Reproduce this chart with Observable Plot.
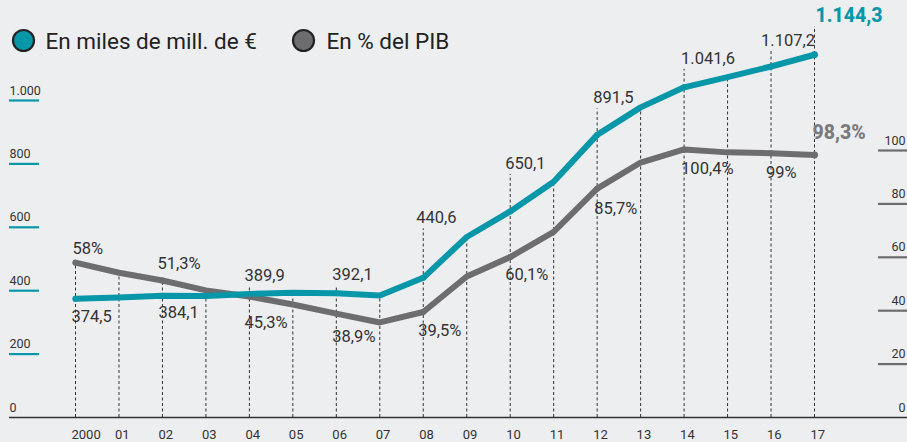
<!DOCTYPE html>
<html><head><meta charset="utf-8">
<script src="https://cdn.jsdelivr.net/npm/d3@7"></script>
<script src="https://cdn.jsdelivr.net/npm/@observablehq/plot@0.6"></script>
<style>
html,body{margin:0;padding:0;background:#edeef0;}
#chart svg{display:block;background:#edeef0;}
</style></head>
<body><div id="chart"></div>
<script>
// ---- data ----
const years = [2000,2001,2002,2003,2004,2005,2006,2007,2008,2009,2010,2011,2012,2013,2014,2015,2016,2017];
const yearLabels = ["2000","01","02","03","04","05","06","07","08","09","10","11","12","13","14","15","16","17"];
const euros = [374.5,378.9,384.1,383.0,389.9,393.5,392.1,384.7,440.6,569.5,650.1,743.5,891.5,978.3,1041.6,1073.9,1107.2,1144.3];
const pctPIB = [58,54.2,51.3,47.6,45.3,42.3,38.9,35.6,39.5,52.8,60.1,69.5,85.7,95.5,100.4,99.3,99,98.3];
const labeledYears = [2000,2002,2004,2006,2008,2010,2012,2014,2016,2017];
const leftTicks = [0,200,400,600,800,1000];
const leftTickLabels = ["0","200","400","600","800","1.000"];
const rightTicks = [0,20,40,60,80,100];
const rightTickLabels = ["0","20","40","60","80","100"];
const legendLabels = ["En miles de mill. de €","En % del PIB"];

// ---- label placement (style) ----
const euroDy = [18,17,-18,-18,-60,-48,-37,-29,-26,-39];
const euroDx = [-4,-4,-5,-4,-7,-5,-4,-3,-10,1];
const pctDy = [-14,-17,26,23,19,18,20,19,20,-22];
const pctDx = [-3,-5,-5,-4,-5,-5,-3,-3,-5,-2];

// ---- layout ----
const W = 907, H = 442;
const X0 = 75, X1 = 814;           // x range for 2000..2017
const Y0 = 417, Y1000 = 100;       // y range for 0..1000
const K = (267/317)*10;            // % -> left-axis units (100% ≈ 842)
const TEAL = "#0897a9", GRAY = "#6d6d6f", INK = "#333333";
const FONT = "Roboto, 'Liberation Sans', sans-serif";

const xInv = px => 2000 + (px - X0) * 17 / (X1 - X0);
const yPx = v => Y0 - v * (Y0 - Y1000) / 1000;
const yInv = px => (Y0 - px) * 1000 / (Y0 - Y1000);

const fmtEs = d3.formatLocale({decimal: ",", thousands: ".", grouping: [3], currency: ["", "€"]});
const fmtE = fmtEs.format(",.1f");
const fmtP = v => String(v).replace(".", ",") + "%";

const rows = years.map((y, i) => ({year: y, label: yearLabels[i], eur: euros[i], pct: pctPIB[i], pctY: pctPIB[i] * K}));
const lab = labeledYears.map((y, j) => {
  const r = rows.find(d => d.year === y);
  return {...r, eDy: euroDy[j], eDx: euroDx[j], pDy: pctDy[j], pDx: pctDx[j], last: y === 2017};
});

// dashed rule tops
const rules = rows.map(r => {
  let top = Math.min(yPx(r.eur), yPx(r.pctY));
  const l = lab.find(d => d.year === r.year);
  if (l && l.eDy < 0) top = Math.min(top, yPx(r.eur) + l.eDy + 11);
  return {year: r.year, top: yInv(top)};
});

const plot = Plot.plot({
  width: W, height: H,
  marginTop: 0, marginRight: 0, marginBottom: 0, marginLeft: 0,
  style: {background: "#edeef0", fontFamily: FONT},
  x: {domain: [2000, 2017], range: [X0, X1], axis: null},
  y: {domain: [0, 1000], range: [Y0, Y1000], axis: null},
  marks: [
    // dashed verticals
    Plot.ruleX(rules, {x: "year", y1: 0, y2: "top", stroke: INK, strokeWidth: 1, strokeDasharray: "3,2.5"}),
    // baseline
    Plot.ruleY([0], {x1: xInv(9), x2: xInv(W), stroke: INK, strokeWidth: 1.5}),
    // left axis ticks
    Plot.ruleY(leftTicks.filter(d => d > 0), {y: d => d, x1: xInv(9), x2: xInv(39), stroke: TEAL, strokeWidth: 2.2}),
    Plot.text(leftTicks, {y: d => d, x: xInv(9), text: (d, i) => leftTickLabels[i], textAnchor: "start", dy: -10, fontSize: 12.5, fill: INK}),
    // right axis ticks
    Plot.ruleY(rightTicks.filter(d => d > 0), {y: d => d * K, x1: xInv(878), x2: xInv(W), stroke: GRAY, strokeWidth: 2.2}),
    Plot.text(rightTicks, {y: d => d * K, x: xInv(905), text: (d, i) => rightTickLabels[i], textAnchor: "end", dy: -10, fontSize: 12.5, fill: INK}),
    // year labels
    Plot.text(rows, {x: "year", y: 0, text: "label", textAnchor: "start", dx: -4, dy: 17, fontSize: 13, fill: INK}),
    // lines
    Plot.line(rows, {x: "year", y: "pctY", stroke: GRAY, strokeWidth: 6, strokeLinejoin: "round"}),
    Plot.line(rows, {x: "year", y: "eur", stroke: TEAL, strokeWidth: 6, strokeLinejoin: "round"}),
    // dots
    Plot.dot(lab, {x: "year", y: "pctY", r: d => d.last ? 6.5 : 4.8, fill: GRAY, stroke: "none"}),
    Plot.dot(lab, {x: "year", y: "eur", r: d => d.last ? 6.5 : 4.8, fill: TEAL, stroke: "none"}),
    // value labels (regular)
    ...lab.filter(d => !d.last).map(d => Plot.text([d], {x: "year", y: "eur", text: v => fmtE(v.eur), textAnchor: "start", dx: d.eDx, dy: d.eDy, fontSize: 16.5, fill: INK})),
    ...lab.filter(d => !d.last).map(d => Plot.text([d], {x: "year", y: "pctY", text: v => fmtP(v.pct), textAnchor: "start", dx: d.pDx, dy: d.pDy, fontSize: 16.5, fill: INK})),
    // last labels (bold)
    ...lab.filter(d => d.last).map(d => Plot.text([d], {x: "year", y: "eur", text: v => fmtE(v.eur), textAnchor: "start", dx: d.eDx, dy: d.eDy, fontSize: 19.5, fontWeight: 800, fill: TEAL})),
    ...lab.filter(d => d.last).map(d => Plot.text([d], {x: "year", y: "pctY", text: v => fmtP(v.pct), textAnchor: "start", dx: d.pDx, dy: d.pDy, fontSize: 19.5, fontWeight: 800, fill: "#7a7a7c"})),
    // legend
    Plot.dot([0], {frameAnchor: "top-left", dx: 23, dy: 40, r: 10.5, fill: TEAL, stroke: "#222", strokeWidth: 2.2}),
    Plot.text([legendLabels[0]], {frameAnchor: "top-left", dx: 45, dy: 41, text: d => d, textAnchor: "start", lineAnchor: "middle", fontSize: 22.5, fill: "#222"}),
    Plot.dot([0], {frameAnchor: "top-left", dx: 303, dy: 40, r: 10.5, fill: GRAY, stroke: "#222", strokeWidth: 2.2}),
    Plot.text([legendLabels[1]], {frameAnchor: "top-left", dx: 326, dy: 41, text: d => d, textAnchor: "start", lineAnchor: "middle", fontSize: 22.5, fill: "#222"})
  ]
});
document.getElementById("chart").appendChild(plot);
</script>
</body></html>
